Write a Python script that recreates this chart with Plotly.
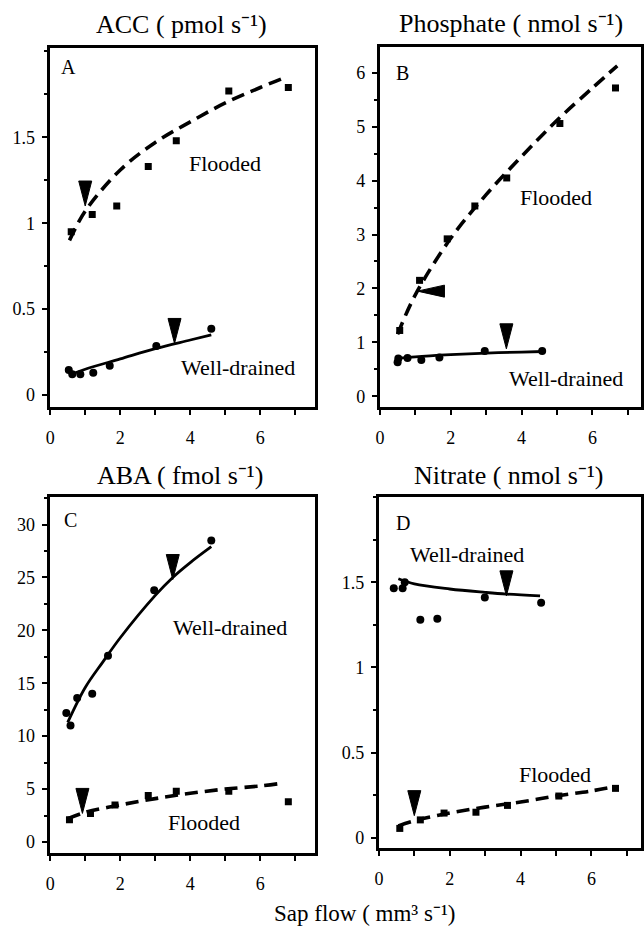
import plotly.graph_objects as go

W, H = 644, 938

# ---------------- DATA ----------------
# Panel A : ACC (pmol s-1)
acc_flood_x = [0.6, 1.2, 1.9, 2.8, 3.6, 5.1, 6.8]
acc_flood_y = [0.95, 1.05, 1.10, 1.33, 1.48, 1.77, 1.79]
acc_flood_fit_x = [0.55, 1, 2, 3, 4, 5, 6, 6.6]
acc_flood_fit_y = [0.90, 1.07, 1.31, 1.47, 1.59, 1.70, 1.79, 1.84]
acc_wd_x = [0.53, 0.63, 0.86, 1.23, 1.70, 3.03, 4.6]
acc_wd_y = [0.145, 0.12, 0.12, 0.13, 0.17, 0.285, 0.385]
acc_wd_fit_x = [0.6, 1, 2, 3, 4, 4.6]
acc_wd_fit_y = [0.12, 0.15, 0.21, 0.27, 0.32, 0.35]
acc_arrow_x = [1.0, 3.55]
acc_arrow_y = [1.10, 0.30]
acc_arrow_dir = ["down", "down"]
acc_ticks = [0, 0.5, 1, 1.5]

# Panel B : Phosphate (nmol s-1)
phos_flood_x = [0.56, 1.12, 1.90, 2.68, 3.58, 5.08, 6.65]
phos_flood_y = [1.22, 2.15, 2.92, 3.53, 4.05, 5.06, 5.72]
phos_flood_fit_x = [0.5, 1, 2, 3, 4, 5, 6, 6.7]
phos_flood_fit_y = [1.15, 1.88, 2.93, 3.74, 4.45, 5.12, 5.72, 6.13]
phos_wd_x = [0.5, 0.52, 0.78, 1.17, 1.68, 2.96, 4.58]
phos_wd_y = [0.63, 0.70, 0.71, 0.67, 0.72, 0.84, 0.84]
phos_wd_fit_x = [0.5, 1, 2, 3, 4, 4.6]
phos_wd_fit_y = [0.70, 0.73, 0.77, 0.80, 0.82, 0.83]
phos_arrow_x = [1.06, 3.57]
phos_arrow_y = [1.95, 0.88]
phos_arrow_dir = ["left", "down"]
phos_ticks = [0, 1, 2, 3, 4, 5, 6]

# Panel C : ABA (fmol s-1)
aba_wd_x = [0.46, 0.58, 0.77, 1.2, 1.65, 2.97, 4.6]
aba_wd_y = [12.2, 11.0, 13.6, 14.0, 17.6, 23.8, 28.5]
aba_wd_fit_x = [0.5, 1, 1.5, 2, 3, 3.5, 4, 4.6]
aba_wd_fit_y = [11.3, 14.6, 17.0, 19.3, 23.3, 25.0, 26.4, 27.9]
aba_flood_x = [0.55, 1.15, 1.85, 2.8, 3.6, 5.1, 6.8]
aba_flood_y = [2.1, 2.7, 3.5, 4.4, 4.8, 4.8, 3.8]
aba_flood_fit_x = [0.5, 1, 2, 3, 4, 5, 6, 6.5]
aba_flood_fit_y = [2.2, 2.8, 3.5, 4.1, 4.6, 5.0, 5.3, 5.5]
aba_arrow_x = [3.5, 0.92]
aba_arrow_y = [24.8, 2.7]
aba_arrow_dir = ["down", "down"]
aba_ticks = [0, 5, 10, 15, 20, 25, 30]

# Panel D : Nitrate (nmol s-1)
nit_wd_x = [0.42, 0.67, 0.73, 1.17, 1.65, 2.99, 4.58]
nit_wd_y = [1.465, 1.465, 1.50, 1.28, 1.285, 1.41, 1.38]
nit_wd_fit_x = [0.55, 1, 2, 3, 3.6, 4.55]
nit_wd_fit_y = [1.52, 1.49, 1.46, 1.44, 1.43, 1.42]
nit_flood_x = [0.59, 1.17, 1.84, 2.74, 3.63, 5.08, 6.68]
nit_flood_y = [0.055, 0.105, 0.145, 0.15, 0.19, 0.245, 0.29]
nit_flood_fit_x = [0.55, 1, 2, 3, 4, 5, 6, 6.65]
nit_flood_fit_y = [0.07, 0.10, 0.145, 0.18, 0.21, 0.245, 0.275, 0.30]
nit_arrow_x = [3.6, 1.0]
nit_arrow_y = [1.42, 0.13]
nit_arrow_dir = ["down", "down"]
nit_ticks = [0, 0.5, 1, 1.5]

sap_ticks = [0, 2, 4, 6]

titles = ["ACC ( pmol s⁻¹)", "Phosphate ( nmol s⁻¹)",
          "ABA ( fmol s⁻¹)", "Nitrate ( nmol s⁻¹)"]
panel_letters = ["A", "B", "C", "D"]
x_title = "Sap flow ( mm³ s⁻¹)"

# ---------------- LAYOUT / STYLE ----------------
FONT = "Liberation Serif, Times New Roman, serif"
# pixel frames: (left, top, right, bottom)
frames = [(45, 48, 313, 407), (379, 47, 643, 407), (45, 497, 313, 853), (378, 497, 643, 848)]
x_ranges = [[-0.02, 7.55], [0, 7.37], [-0.02, 7.55], [0, 7.4]]
y_ranges = [[-0.07, 2.02], [-0.2, 6.48], [-1.04, 32.6], [-0.06, 2.0]]
y_ticks = [acc_ticks, phos_ticks, aba_ticks, nit_ticks]
y_minor = [0.25, 0.5, 2.5, 0.25]
title_pos = [(178, 25), (512, 24), (177, 475), (509, 475)]

panels = [
    dict(series=[(acc_flood_x, acc_flood_y, acc_flood_fit_x, acc_flood_fit_y, "square", "dash"),
                 (acc_wd_x, acc_wd_y, acc_wd_fit_x, acc_wd_fit_y, "circle", "solid")],
         arrows=(acc_arrow_x, acc_arrow_y, acc_arrow_dir),
         labels=[("Flooded", 5.0, 1.35), ("Well-drained", 5.37, 0.16)],
         letter=(0.52, 1.91)),
    dict(series=[(phos_flood_x, phos_flood_y, phos_flood_fit_x, phos_flood_fit_y, "square", "dash"),
                 (phos_wd_x, phos_wd_y, phos_wd_fit_x, phos_wd_fit_y, "circle", "solid")],
         arrows=(phos_arrow_x, phos_arrow_y, phos_arrow_dir),
         labels=[("Flooded", 4.97, 3.68), ("Well-drained", 5.25, 0.33)],
         letter=(0.64, 6.0)),
    dict(series=[(aba_wd_x, aba_wd_y, aba_wd_fit_x, aba_wd_fit_y, "circle", "solid"),
                 (aba_flood_x, aba_flood_y, aba_flood_fit_x, aba_flood_fit_y, "square", "dash")],
         arrows=(aba_arrow_x, aba_arrow_y, aba_arrow_dir),
         labels=[("Well-drained", 5.14, 20.3), ("Flooded", 4.4, 1.8)],
         letter=(0.57, 30.4)),
    dict(series=[(nit_wd_x, nit_wd_y, nit_wd_fit_x, nit_wd_fit_y, "circle", "solid"),
                 (nit_flood_x, nit_flood_y, nit_flood_fit_x, nit_flood_fit_y, "square", "dash")],
         arrows=(nit_arrow_x, nit_arrow_y, nit_arrow_dir),
         labels=[("Well-drained", 2.5, 1.66), ("Flooded", 4.97, 0.37)],
         letter=(0.67, 1.85)),
]

fig = go.Figure()
shapes = []
annotations = []
layout = {}

for i, p in enumerate(panels):
    n = "" if i == 0 else str(i + 1)
    xa, ya = "x" + n, "y" + n
    l, t, r, b = frames[i]
    for sx, sy, fx, fy, sym, dash in p["series"]:
        fig.add_trace(go.Scatter(x=fx, y=fy, mode="lines", xaxis=xa, yaxis=ya,
                                 line=dict(color="black", width=3.6 if dash == "dash" else 2.8,
                                           dash="13px,7px" if dash == "dash" else "solid",
                                           shape="spline", smoothing=1.0),
                                 showlegend=False, hoverinfo="skip"))
        fig.add_trace(go.Scatter(x=sx, y=sy, mode="markers", xaxis=xa, yaxis=ya,
                                 marker=dict(symbol=sym, color="black",
                                             size=8 if sym == "circle" else 7),
                                 showlegend=False))
    ax_x, ax_y, ax_d = p["arrows"]
    for axv, ayv, d in zip(ax_x, ax_y, ax_d):
        path = "M0,0 L-6.5,25 L6.5,25 Z" if d == "down" else "M0,0 L27,6 L27,-6 Z"
        shapes.append(dict(type="path", xref=xa, yref=ya, xsizemode="pixel", ysizemode="pixel",
                           xanchor=axv, yanchor=ayv, path=path,
                           fillcolor="black", line=dict(color="black", width=1)))
    for txt, tx, ty in p["labels"]:
        annotations.append(dict(text=txt, x=tx, y=ty, xref=xa, yref=ya, showarrow=False,
                                font=dict(family=FONT, size=22, color="black"),
                                xanchor="center", yanchor="middle"))
    annotations.append(dict(text=panel_letters[i], x=p["letter"][0], y=p["letter"][1],
                            xref=xa, yref=ya, showarrow=False,
                            font=dict(family=FONT, size=20, color="black"),
                            xanchor="center", yanchor="middle"))
    tx, ty = title_pos[i]
    annotations.append(dict(text=titles[i], x=tx / W, y=1 - ty / H, xref="paper", yref="paper",
                            showarrow=False, font=dict(family=FONT, size=26, color="black"),
                            xanchor="center", yanchor="middle"))
    axis_common = dict(showline=True, linecolor="black", linewidth=3, mirror=True,
                       ticks="outside", tickcolor="black", tickwidth=2, ticklen=5,
                       showgrid=False, zeroline=False,
                       tickfont=dict(family=FONT, size=18, color="black"))
    layout["xaxis" + n] = dict(axis_common, domain=[l / W, r / W], range=x_ranges[i],
                               anchor=ya, tickmode="array", tickvals=sap_ticks,
                               ticktext=[str(v) for v in sap_ticks], ticklabelstandoff=7,
                               minor=dict(dtick=1, tick0=0, ticks="outside", ticklen=5,
                                          tickwidth=2, tickcolor="black", showgrid=False))
    layout["yaxis" + n] = dict(axis_common, domain=[1 - b / H, 1 - t / H], range=y_ranges[i],
                               anchor=xa, tickmode="array", tickvals=y_ticks[i],
                               ticktext=[f"{v:g}" for v in y_ticks[i]], ticklabelstandoff=3,
                               minor=dict(dtick=y_minor[i], tick0=0, ticks="outside",
                                          ticklen=3, tickwidth=1.5, tickcolor="black",
                                          showgrid=False))

annotations.append(dict(text=x_title, x=364 / W, y=1 - 913 / H, xref="paper", yref="paper",
                        showarrow=False, font=dict(family=FONT, size=23, color="black"),
                        xanchor="center", yanchor="middle"))

fig.update_layout(width=W, height=H, margin=dict(l=0, r=0, t=0, b=0),
                  paper_bgcolor="white", plot_bgcolor="white",
                  shapes=shapes, annotations=annotations, **layout)

fig.write_html("out.html")
